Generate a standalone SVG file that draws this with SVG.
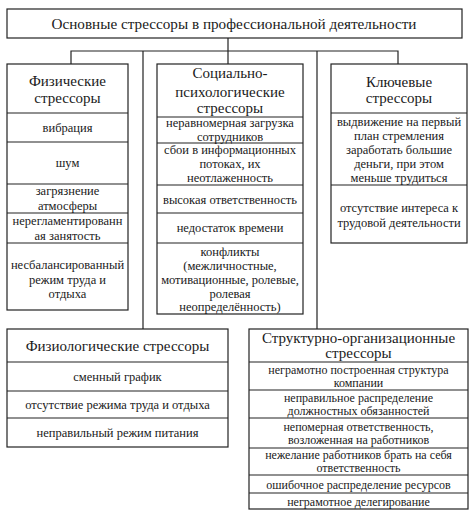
<svg xmlns="http://www.w3.org/2000/svg" width="474" height="512" viewBox="0 0 474 512">
<style>
rect{fill:#fff;stroke:#222;stroke-width:1.2}
line,.c{stroke:#222;stroke-width:1.2;fill:none}
text{font-family:"Liberation Serif","Times New Roman",serif;fill:#1a1a1a;text-anchor:middle}
.t{font-size:15.2px}
.h{font-size:15px}
.i{font-size:12.5px}
.s{font-size:12px}
</style>
<rect x="0" y="0" width="474" height="512" style="fill:#fff;stroke:none"/>
<g id="connectors">
<path class="c" d="M228 38V64M71 64V51H398V64M143 51V329M317 51V329"/>
</g>
<g id="title">
<rect x="7" y="9" width="455" height="29"/>
<text class="t" x="234" y="29">Основные стрессоры в профессиональной деятельности</text>
</g>
<g id="physical">
<rect x="7" y="64" width="121" height="246"/>
<line x1="7" y1="113" x2="128" y2="113"/>
<line x1="7" y1="142" x2="128" y2="142"/>
<line x1="7" y1="184" x2="128" y2="184"/>
<line x1="7" y1="213" x2="128" y2="213"/>
<line x1="7" y1="243" x2="128" y2="243"/>
<text class="h" x="67.5" y="86">Физические</text>
<text class="h" x="67.5" y="103">стрессоры</text>
<text class="i" x="67.5" y="132">вибрация</text>
<text class="i" x="67.5" y="167">шум</text>
<text class="i" x="67.5" y="195">загрязнение</text>
<text class="i" x="67.5" y="210">атмосферы</text>
<text class="i" x="67.5" y="225">нерегламентированн</text>
<text class="i" x="67.5" y="240">ая занятость</text>
<text class="i" x="67.5" y="269">несбалансированный</text>
<text class="i" x="67.5" y="284">режим труда и</text>
<text class="i" x="67.5" y="298">отдыха</text>
</g>
<g id="social">
<rect x="157" y="64" width="146" height="250"/>
<line x1="157" y1="117" x2="303" y2="117"/>
<line x1="157" y1="143" x2="303" y2="143"/>
<line x1="157" y1="185" x2="303" y2="185"/>
<line x1="157" y1="213" x2="303" y2="213"/>
<line x1="157" y1="243" x2="303" y2="243"/>
<text class="h" x="230" y="78">Социально-</text>
<text class="h" x="230" y="97">психологические</text>
<text class="h" x="230" y="113">стрессоры</text>
<text class="i" x="230" y="127">неравномерная загрузка</text>
<text class="i" x="230" y="141">сотрудников</text>
<text class="i" x="230" y="154">сбои в информационных</text>
<text class="i" x="230" y="168">потоках, их</text>
<text class="i" x="230" y="182">неотлаженность</text>
<text class="i" x="230" y="204">высокая ответственность</text>
<text class="i" x="230" y="232">недостаток времени</text>
<text class="i" x="230" y="256">конфликты</text>
<text class="i" x="230" y="270">(межличностные,</text>
<text class="i" x="230" y="284">мотивационные, ролевые,</text>
<text class="i" x="230" y="297.5">ролевая</text>
<text class="i" x="230" y="311">неопределённость)</text>
</g>
<g id="key">
<rect x="331" y="64" width="136" height="179"/>
<line x1="331" y1="113" x2="467" y2="113"/>
<line x1="331" y1="185" x2="467" y2="185"/>
<text class="h" x="399" y="87">Ключевые</text>
<text class="h" x="399" y="103">стрессоры</text>
<text class="i" x="399" y="126">выдвижение на первый</text>
<text class="i" x="399" y="140">план стремления</text>
<text class="i" x="399" y="154">заработать большие</text>
<text class="i" x="399" y="168">деньги, при этом</text>
<text class="i" x="399" y="182">меньше трудиться</text>
<text class="i" x="399" y="212">отсутствие интереса к</text>
<text class="i" x="399" y="227">трудовой деятельности</text>
</g>
<g id="physiological">
<rect x="7" y="329" width="221" height="118"/>
<line x1="7" y1="362" x2="228" y2="362"/>
<line x1="7" y1="391" x2="228" y2="391"/>
<line x1="7" y1="418" x2="228" y2="418"/>
<text class="h" x="117.5" y="351">Физиологические стрессоры</text>
<text class="i" x="117.5" y="381">сменный график</text>
<text class="i" x="117.5" y="409">отсутствие режима труда и отдыха</text>
<text class="i" x="117.5" y="437">неправильный режим питания</text>
</g>
<g id="structural">
<rect x="249" y="329" width="219" height="180"/>
<line x1="249" y1="362" x2="468" y2="362"/>
<line x1="249" y1="390" x2="468" y2="390"/>
<line x1="249" y1="418" x2="468" y2="418"/>
<line x1="249" y1="448" x2="468" y2="448"/>
<line x1="249" y1="475" x2="468" y2="475"/>
<line x1="249" y1="493" x2="468" y2="493"/>
<text class="h" x="358.5" y="343">Структурно-организационные</text>
<text class="h" x="358.5" y="358">стрессоры</text>
<text class="s" x="358.5" y="373.5">неграмотно построенная структура</text>
<text class="s" x="358.5" y="386.5">компании</text>
<text class="s" x="358.5" y="401.5">неправильное распределение</text>
<text class="s" x="358.5" y="414.5">должностных обязанностей</text>
<text class="s" x="358.5" y="431">непомерная ответственность,</text>
<text class="s" x="358.5" y="444">возложенная на работников</text>
<text class="s" x="358.5" y="459">нежелание работников брать на себя</text>
<text class="s" x="358.5" y="472">ответственность</text>
<text class="s" x="358.5" y="488.5">ошибочное распределение ресурсов</text>
<text class="s" x="358.5" y="505.5">неграмотное делегирование</text>
</g>
</svg>
